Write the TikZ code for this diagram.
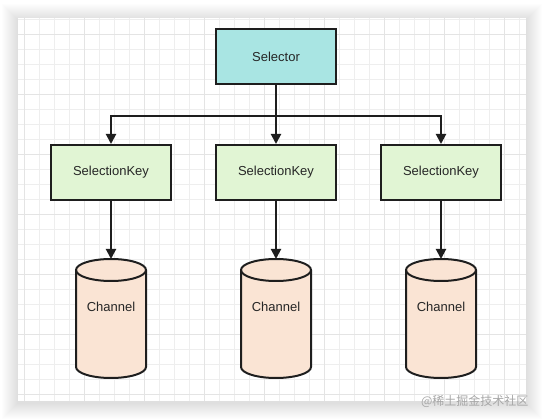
\documentclass[tikz,border=0pt]{standalone}
\usepackage{fontspec}
\setmainfont{Liberation Sans}
\newfontfamily\cjk{Noto Sans CJK SC}
\usetikzlibrary{positioning,arrows.meta}
\definecolor{selc}{HTML}{A9E5E3}
\definecolor{keyc}{HTML}{E1F5D4}
\definecolor{chanc}{HTML}{FAE4D4}
\definecolor{edgec}{HTML}{1E1E1E}
\definecolor{gridc}{HTML}{EEEEEE}
\definecolor{gridm}{HTML}{E4E4E4}
\tikzset{
  box/.style={draw=edgec, line width=2pt, minimum width=120pt, minimum height=55pt,
              font=\fontsize{13}{15}\selectfont, text=black!85},
  selbox/.style={box, fill=selc},
  keybox/.style={box, fill=keyc},
  chan/.style={minimum width=70pt, minimum height=119pt, inner sep=0pt, outer sep=0pt},
  chanline/.style={draw=edgec, line width=2pt},
  lbl/.style={font=\fontsize{13}{15}\selectfont, text=black!85},
  flow/.style={-{Triangle[length=10pt,width=10pt]}, line width=2pt, draw=edgec},
}

\begin{document}
\begin{tikzpicture}[x=1pt, y=-1pt]
\useasboundingbox (0,0) rectangle (544,419);
\fill[white] (0,0) rectangle (544,419);

% ---------------------------------------------------------------- sheet
\foreach \s in {1,...,16}
  \fill[black, opacity=0.008] (18-\s,20-\s) rectangle (526+\s,403+\s);
\fill[white] (18,18) rectangle (526,401);
\foreach \x in {24,39,...,519}
  \draw[gridc, line width=0.7pt] (\x,18) -- (\x,401);
\foreach \y in {19,34,...,394}
  \draw[gridc, line width=0.7pt] (18,\y) -- (526,\y);
\foreach \x in {24,84,...,504}
  \draw[gridm, line width=0.7pt] (\x,18) -- (\x,401);
\foreach \y in {34,94,...,394}
  \draw[gridm, line width=0.7pt] (18,\y) -- (526,\y);

% ---------------------------------------------------------------- selector
\node[selbox] (sel) at (276,56.5) {Selector};

% ---------------------------------------------------------------- keys
\node[keybox, below=59pt of sel] (key2) {SelectionKey};
\node[keybox, left=43pt of key2] (key1) {SelectionKey};
\node[keybox, right=43pt of key2] (key3) {SelectionKey};

\draw[flow] (sel) -- (key2);
\draw[flow] (sel.south) -- ++(0,31) -| (key1.north);
\draw[flow] (sel.south) -- ++(0,31) -| (key3.north);

% ---------------------------------------------------------------- channels
% cylinder: body + front rim of the top ellipse (rx 35pt, ry 11pt)
\foreach \i in {1,2,3} {
  \node[chan, below=58pt of key\i] (ch\i) {};
  \filldraw[chanline, fill=chanc]
    ([yshift=-11pt]ch\i.north west) -- ([yshift=11pt]ch\i.south west)
    arc (180:360:35pt and 11pt) -- ([yshift=-11pt]ch\i.north east)
    arc (0:180:35pt and 11pt) -- cycle;
  \draw[chanline] ([yshift=-11pt]ch\i.north west) arc (180:360:35pt and 11pt);
  \node[lbl] (chtxt\i) at ([yshift=11.5pt]ch\i.center) {Channel};
  \draw[flow] (key\i) -- (ch\i);
}

% ---------------------------------------------------------------- watermark
\node[font=\cjk\fontsize{12}{14}\selectfont, text=gray!70, anchor=east]
  (mark) at (532,401) {@稀土掘金技术社区};

\end{tikzpicture}
\end{document}
